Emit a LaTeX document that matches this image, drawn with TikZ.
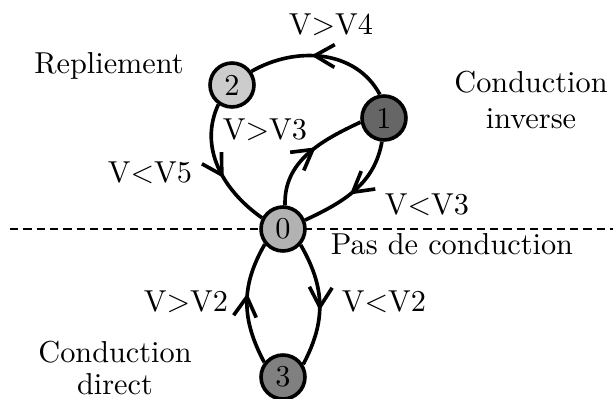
\documentclass[tikz,border=0pt]{standalone}
\usetikzlibrary{arrows.meta,decorations.markings}
\begin{document}
\begin{tikzpicture}[x=0.33pt,y=-0.33pt,
  state/.style={circle,draw,line width=1.2pt,minimum size=14.5pt,inner sep=0pt},
  trans/.style={line width=1.2pt,postaction={decorate},
    decoration={markings,mark=at position #1 with {\arrow{Straight Barb[length=6.5pt,width=7.5pt,line width=1.2pt]}}}},
  trans/.default=0.55,
  lbl/.style={inner sep=0pt}]
\useasboundingbox (0,0) rectangle (613,399);
\draw[line width=0.6pt,dash pattern=on 2.7pt off 1.7pt] (10,229) -- (613,229);
\node[state,fill=black!30] (n0) at (283,229) {0};
\node[state,fill=black!60] (n1) at (384,118) {1};
\node[state,fill=black!20] (n2) at (232,85) {2};
\node[state,fill=black!50] (n3) at (283,377) {3};
\draw[trans=0.57] (n0.85) to[out=92,in=205] (n1.190);
\draw[trans=0.55] (n1.-95) to[out=-100,in=25] (n0.22);
\draw[trans=0.57] (n1.100) to[out=118,in=30] (n2.35);
\draw[trans=0.58] (n2.235) to[out=245,in=145] (n0.152);
\draw[trans=0.55] (n0.-42) to[out=-60,in=62,looseness=1.05] (n3.32);
\draw[trans=0.58] (n3.142) to[out=118,in=-120,looseness=1.05] (n0.220);
\node[lbl] (l4) at (331,25) {V$>$V4};
\node[lbl] (l3a) at (265,130) {V$>$V3};
\node[lbl] (l5) at (150,173) {V$<$V5};
\node[lbl] (l3b) at (427,205) {V$<$V3};
\node[lbl] (l2a) at (186,302) {V$>$V2};
\node[lbl] (l2b) at (384,302) {V$<$V2};
\node[lbl] (pas) at (452,244) {Pas de conduction};
\node[lbl] (rep) at (109,66) {Repliement};
\node[lbl,align=center] (inv) at (531,100) {Conduction\\inverse};
\node[lbl,align=center] (dir) at (115,368) {Conduction\\[-1.5pt]direct};
\end{tikzpicture}
\end{document}
